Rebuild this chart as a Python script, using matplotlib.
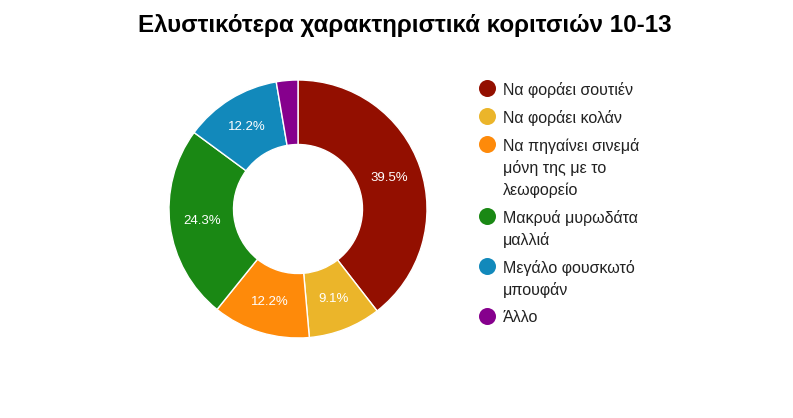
import matplotlib
matplotlib.use("Agg")
import matplotlib.pyplot as plt

title = "Ελυστικότερα χαρακτηριστικά κοριτσιών 10-13"
categories = ["Να φοράει σουτιέν", "Να φοράει κολάν",
              "Να πηγαίνει σινεμά\nμόνη της με το\nλεωφορείο",
              "Μακρυά μυρωδάτα\nμαλλιά", "Μεγάλο φουσκωτό\nμπουφάν", "Άλλο"]
values = [39.5, 9.1, 12.2, 24.3, 12.2, 2.7]
colors = ["#930f00", "#ebb52a", "#fe8a0a", "#1a8814", "#1289bb", "#86008d"]

W, H = 793, 418
fig = plt.figure(figsize=(W / 100, H / 100), dpi=100)
ax = fig.add_axes([0, 0, 1, 1])

font = ["Liberation Sans", "DejaVu Sans"]

cx, cy, R = 298, H - 209, 129
wedges, texts, autotexts = ax.pie(
    values, colors=colors, startangle=90, counterclock=False,
    center=(cx, cy), radius=R, frame=True,
    autopct=lambda p: f"{p:.1f}%" if p >= 5 else "",
    pctdistance=0.75,
    wedgeprops=dict(width=R * 0.5, edgecolor="white", linewidth=1),
    textprops=dict(color="white", fontsize=9.5, family=font))
ax.set_xlim(0, W)
ax.set_ylim(0, H)
ax.set_aspect("equal")
ax.axis("off")

fig.text(405 / W, 1 - 32 / H, title, ha="center", va="baseline",
         fontsize=17.4, fontweight="bold", family=font, color="black")

y = 88
for lab, col in zip(categories, colors):
    ax.scatter([487], [H - y], s=150, color=col, marker="o", linewidths=0)
    lines = lab.split("\n")
    for i, ln in enumerate(lines):
        ax.text(503, H - (y + 22 * i + 6.5), ln, ha="left", va="baseline",
                fontsize=11.5, family=font, color="#222222")
    y += 22 * (len(lines) - 1) + 28

fig.savefig("out.png", dpi=100)
